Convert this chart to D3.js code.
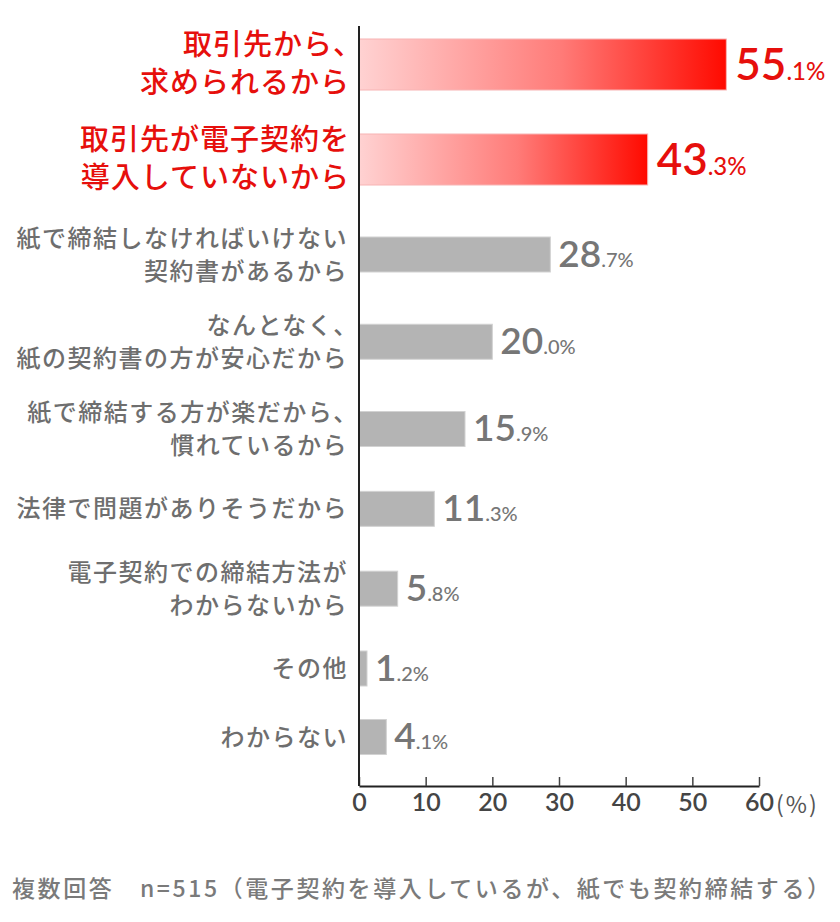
<!DOCTYPE html>
<html>
<head>
<meta charset="utf-8">
<script src="https://cdn.jsdelivr.net/npm/d3@7"></script>
<style>
  html, body { margin: 0; padding: 0; background: #ffffff; }
  svg { display: block; }
</style>
</head>
<body>
<svg id="chart" width="840" height="922"></svg>
<script>
// ---- data ----
const categories = [
  ["取引先から、", "求められるから"],
  ["取引先が電子契約を", "導入していないから"],
  ["紙で締結しなければいけない", "契約書があるから"],
  ["なんとなく、", "紙の契約書の方が安心だから"],
  ["紙で締結する方が楽だから、", "慣れているから"],
  ["法律で問題がありそうだから"],
  ["電子契約での締結方法が", "わからないから"],
  ["その他"],
  ["わからない"]
];
const values = [55.1, 43.3, 28.7, 20.0, 15.9, 11.3, 5.8, 1.2, 4.1];
const highlighted = [true, true, false, false, false, false, false, false, false];
const xTicks = [0, 10, 20, 30, 40, 50, 60];
const unitLabel = "(%)";
const footnote = "複数回答　n=515（電子契約を導入しているが、紙でも契約締結する）";

// ---- layout ----
const svg = d3.select("#chart");
const x = d3.scaleLinear().domain([0, 60]).range([359, 759]);
const idx = d3.range(categories.length);
// row centers (piecewise scale over the row index)
const y = d3.scaleLinear().domain([0, 2, 4, 7, 8]).range([64.5, 254.5, 429, 668.5, 737]);
const axisY = 786;

const jpFont = "'Noto Sans CJK JP', 'Noto Sans', sans-serif";
const numFont = "Lato, 'Noto Sans', sans-serif";
const red = "#e60f0c";

// gradient
const defs = svg.append("defs");
const grad = defs.append("linearGradient").attr("id", "redGrad")
  .attr("x1", "0%").attr("x2", "100%").attr("y1", "0%").attr("y2", "0%");
grad.append("stop").attr("offset", "0%").attr("stop-color", "#ffd2d2");
grad.append("stop").attr("offset", "55%").attr("stop-color", "#ff7b78");
grad.append("stop").attr("offset", "100%").attr("stop-color", "#ff0a00");

// bars
svg.append("g").selectAll("rect").data(idx).join("rect")
  .attr("x", x(0))
  .attr("y", i => y(i) - (highlighted[i] ? 25.5 : 17.5))
  .attr("width", i => x(values[i]) - x(0))
  .attr("height", i => highlighted[i] ? 51 : 35)
  .attr("fill", i => highlighted[i] ? "url(#redGrad)" : "#b4b4b4")
  .attr("stroke", i => highlighted[i] ? "#f7b4b4" : "#d2d2d2")
  .attr("stroke-width", 1);

// category labels
const labels = svg.append("g").selectAll("text").data(idx).join("text")
  .attr("text-anchor", "end")
  .attr("font-family", jpFont)
  .attr("font-weight", 500)
  .attr("font-size", i => highlighted[i] ? 29 : 24)
  .attr("letter-spacing", i => highlighted[i] ? 1 : 1.5)
  .attr("fill", i => highlighted[i] ? red : "#6e6e6e");
labels.each(function(i) {
  const lines = categories[i];
  const lh = highlighted[i] ? 38 : 33;
  const fs = highlighted[i] ? 29 : 24;
  const n = lines.length;
  const x0 = highlighted[i] ? 350 : 348;
  d3.select(this).selectAll("tspan").data(lines).join("tspan")
    // an ideographic comma leaves blank room on its right: pull it to the edge
    .attr("x", d => d.endsWith("、") ? x0 + fs * 0.45 : x0)
    .attr("y", (d, k) => y(i) - (highlighted[i] ? 1 : 0) + (k - (n - 1) / 2) * lh + fs * 0.36)
    .text(d => d);
});

// value labels
const vals = svg.append("g").selectAll("text").data(idx).join("text")
  .attr("x", i => x(values[i]) + (highlighted[i] ? 9 : 8))
  .attr("y", i => y(i) + (highlighted[i] ? 15 : 12))
  .attr("font-family", numFont)
  .attr("font-weight", 600)
  .attr("fill", i => highlighted[i] ? red : "#767676");
vals.each(function(i) {
  const s = values[i].toFixed(1).split(".");
  const t = d3.select(this);
  t.append("tspan").attr("font-size", highlighted[i] ? 44 : 37).text(s[0]);
  t.append("tspan").attr("font-size", highlighted[i] ? 24 : 20).attr("font-weight", 500).text("." + s[1] + "%");
});

// axes
const xAxis = d3.axisBottom(x).tickValues(xTicks).tickSizeInner(-9).tickSizeOuter(0).tickPadding(7);
const gx = svg.append("g").attr("transform", `translate(0,${axisY})`).call(xAxis);
gx.select(".domain").attr("stroke", "#222").attr("stroke-width", 2);
gx.selectAll(".tick line").attr("stroke", "#444").attr("stroke-width", 1.5);
gx.selectAll(".tick text")
  .attr("font-family", numFont).attr("font-size", 25).attr("font-weight", 600)
  .attr("fill", "#454545");

svg.append("line")
  .attr("x1", x(0)).attr("x2", x(0))
  .attr("y1", 26).attr("y2", axisY)
  .attr("stroke", "#222").attr("stroke-width", 2);

svg.append("text")
  .attr("x", 776).attr("y", axisY + 27)
  .attr("font-family", jpFont).attr("font-size", 23).attr("fill", "#555")
  .attr("letter-spacing", 2)
  .text(unitLabel);

// footnote
svg.append("text")
  .attr("x", 12).attr("y", 897)
  .attr("font-family", jpFont).attr("font-size", 23).attr("font-weight", 500)
  .attr("fill", "#7a7a7a")
  .attr("textLength", 818).attr("lengthAdjust", "spacing")
  .text(footnote);
</script>
</body>
</html>
